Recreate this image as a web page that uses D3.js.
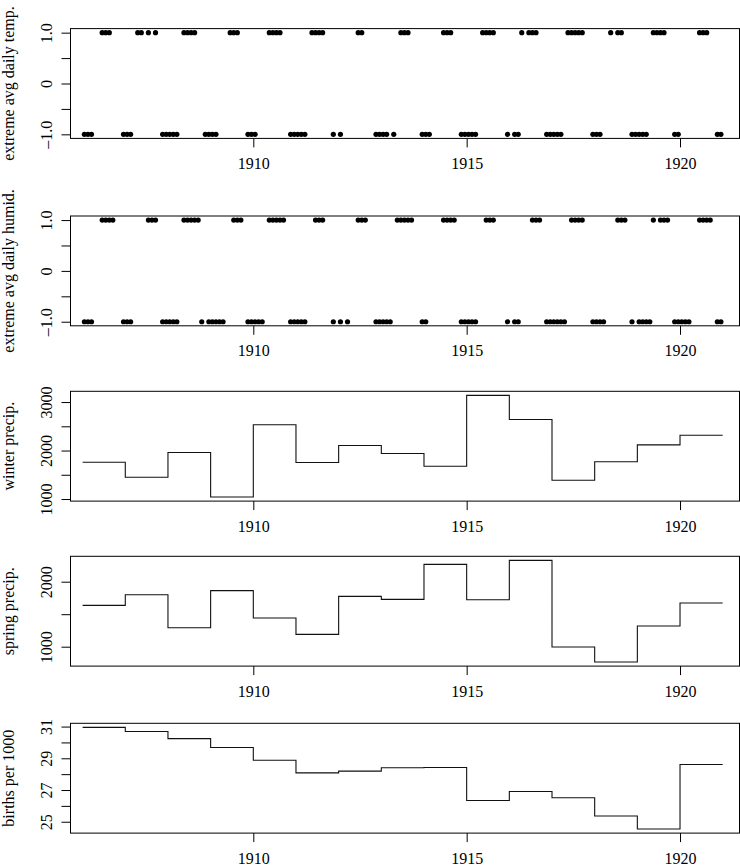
<!DOCTYPE html>
<html>
<head>
<meta charset="utf-8">
<script src="https://cdn.jsdelivr.net/npm/d3@7"></script>
<style>
  body { margin: 0; background: #fff; }
  svg text { font-family: "Liberation Serif", "Times New Roman", serif; font-size: 16px; fill: #000; }
</style>
</head>
<body>
<div id="chart"></div>
<script>
// yearly series, one value per year 1906..1920
const years = [1906, 1907, 1908, 1909, 1910, 1911, 1912, 1913, 1914, 1915, 1916, 1917, 1918, 1919, 1920];
const winterPrecip = [1759, 1448, 1959, 1041, 2531, 1752, 2103, 1938, 1676, 3138, 2641, 1386, 1770, 2117, 2314];
const springPrecip = [1636, 1800, 1292, 1862, 1441, 1190, 1774, 1728, 2267, 1723, 2328, 995, 764, 1318, 1672];
const births = [30.95, 30.69, 30.24, 29.68, 28.88, 28.08, 28.19, 28.4, 28.42, 26.34, 26.91, 26.51, 25.36, 24.54, 28.61];

// months (counted from Jan 1906) flagged as extreme, +1 high / -1 low
const tempHigh = [5, 6, 7, 15, 16, 18, 20, 28, 29, 30, 31, 41, 42, 43, 52, 53, 54, 55, 64, 65, 66, 67, 77, 78,
  89, 90, 91, 101, 102, 103, 112, 113, 114, 115, 123, 125, 126, 127, 136, 137, 138, 139, 140, 148, 150, 151,
  160, 161, 162, 163, 173, 174, 175];
const tempLow = [0, 1, 2, 11, 12, 13, 22, 23, 24, 25, 26, 34, 35, 36, 37, 46, 47, 48, 58, 59, 60, 61, 62, 70, 72,
  82, 83, 84, 85, 87, 95, 96, 97, 106, 107, 108, 109, 110, 119, 121, 122, 130, 131, 132, 133, 134, 143, 144, 145,
  154, 155, 156, 157, 158, 166, 167, 178, 179];
const humidHigh = [5, 6, 7, 8, 18, 19, 20, 28, 29, 30, 31, 32, 42, 43, 44, 52, 53, 54, 55, 56, 65, 66, 67, 77, 78, 79,
  88, 89, 90, 91, 92, 101, 102, 103, 104, 113, 114, 115, 126, 127, 128, 137, 138, 139, 140, 150, 151, 152,
  160, 162, 163, 164, 173, 174, 175, 176];
const humidLow = [0, 1, 2, 11, 12, 13, 22, 23, 24, 25, 26, 33, 35, 36, 37, 38, 39, 46, 47, 48, 49, 50, 58, 59, 60, 61, 62,
  70, 72, 74, 82, 83, 84, 85, 86, 95, 96, 106, 107, 108, 109, 110, 119, 121, 122, 130, 131, 132, 133, 134, 135,
  143, 144, 145, 146, 154, 156, 157, 158, 159, 166, 167, 168, 169, 170, 178, 179];

const xTicks = [1910, 1915, 1920];

const width = 740, height = 866;
const left = 70.5, right = 739.5, panelH = 109.8;
const panelTops = [28.6, 216, 391.3, 556.3, 723.3];

const svg = d3.select('#chart').append('svg')
  .attr('width', width)
  .attr('height', height);

const x = d3.scaleLinear()
  .domain([1905.716, 1921.394])
  .range([left, right]);

// R style 4% padding of the data range
function padded(lo, hi) {
  const d = (hi - lo) * 0.04;
  return [lo - d, hi + d];
}

const pmLabels = { '-1': '\u20131.0', '0': '0', '1': '1.0' };

const panels = [
  { label: 'extreme avg daily temp.', kind: 'dots', hi: tempHigh, lo: tempLow,
    ticks: [-1, -0.5, 0, 0.5, 1], labels: pmLabels },
  { label: 'extreme avg daily humid.', kind: 'dots', hi: humidHigh, lo: humidLow,
    ticks: [-1, -0.5, 0, 0.5, 1], labels: pmLabels },
  { label: 'winter precip.', kind: 'step', values: winterPrecip,
    ticks: [1000, 1500, 2000, 2500, 3000], labels: { '1000': '1000', '2000': '2000', '3000': '3000' } },
  { label: 'spring precip.', kind: 'step', values: springPrecip,
    ticks: [1000, 1500, 2000], labels: { '1000': '1000', '2000': '2000' } },
  { label: 'births per 1000', kind: 'step', values: births,
    ticks: [25, 26, 27, 28, 29, 30, 31], labels: { '25': '25', '27': '27', '29': '29', '31': '31' } }
];

panels.forEach((p, i) => {
  const top = panelTops[i], bottom = top + panelH;
  const g = svg.append('g');

  const domain = p.kind === 'dots' ? padded(-1, 1) : padded(d3.min(p.values), d3.max(p.values));
  const y = d3.scaleLinear().domain(domain).range([bottom, top]);

  if (p.kind === 'dots') {
    const pts = p.hi.map(m => [1906 + (m + 0.5) / 12, 1])
      .concat(p.lo.map(m => [1906 + (m + 0.5) / 12, -1]));
    g.selectAll('circle')
      .data(pts)
      .enter()
      .append('circle')
      .attr('cx', d => x(d[0]))
      .attr('cy', d => y(d[1]))
      .attr('r', 2.6)
      .attr('fill', '#000');
  } else {
    const pts = years.map((yr, j) => [yr, p.values[j]]);
    pts.push([years[years.length - 1] + 1, p.values[p.values.length - 1]]);
    const line = d3.line()
      .x(d => x(d[0]))
      .y(d => y(d[1]))
      .curve(d3.curveStepAfter);
    g.append('path')
      .datum(pts)
      .attr('d', line)
      .attr('fill', 'none')
      .attr('stroke', '#111')
      .attr('stroke-width', 1.1);
  }

  // box
  g.append('rect')
    .attr('x', left)
    .attr('y', top)
    .attr('width', right - left)
    .attr('height', panelH)
    .attr('fill', 'none')
    .attr('stroke', '#000')
    .attr('stroke-width', 1);

  // y axis
  const yAxis = d3.axisLeft(y)
    .tickValues(p.ticks)
    .tickSize(9)
    .tickFormat(v => p.labels[String(v)] || '');
  const ya = g.append('g')
    .attr('transform', `translate(${left},0)`)
    .call(yAxis);
  ya.select('.domain').remove();
  ya.selectAll('line').attr('stroke', '#000');
  ya.selectAll('text')
    .attr('x', null)
    .attr('dy', null)
    .attr('text-anchor', 'middle')
    .attr('transform', 'translate(-19,0) rotate(-90)');

  // x axis
  const xAxis = d3.axisBottom(x)
    .tickValues(xTicks)
    .tickSize(9)
    .tickFormat(d3.format('d'));
  const xa = g.append('g')
    .attr('transform', `translate(0,${bottom})`)
    .call(xAxis);
  xa.select('.domain').remove();
  xa.selectAll('line').attr('stroke', '#000');
  xa.selectAll('text')
    .attr('dy', null)
    .attr('y', 30.5);

  // axis title
  g.append('text')
    .attr('text-anchor', 'middle')
    .attr('transform', `translate(14,${(top + bottom) / 2}) rotate(-90)`)
    .text(p.label);
});
</script>
</body>
</html>
